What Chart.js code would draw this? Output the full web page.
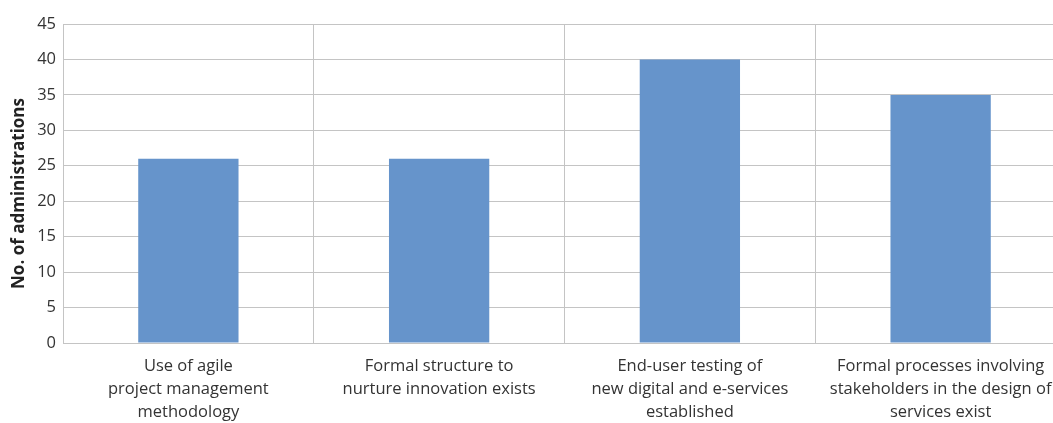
<!DOCTYPE html>
<html>
<head>
<meta charset="utf-8">
<script src="https://cdn.jsdelivr.net/npm/chart.js@4/dist/chart.umd.min.js"></script>
<style>
  html, body { margin: 0; padding: 0; background: #fff; overflow: hidden; }
  #wrap { position: relative; width: 1070px; height: 423px; }
</style>
</head>
<body>
<div id="wrap"><canvas id="c"></canvas></div>
<script>
// Categories (wrapped onto several lines) and counts per category
const categories = [
  ["Use of agile", "project management", "methodology"],
  ["Formal structure to", "nurture innovation exists"],
  ["End-user testing of", "new digital and e-services", "established"],
  ["Formal processes involving", "stakeholders in the design of", "services exist"]
];
const administrations = [26, 26, 40, 35];
const yTitle = "No. of administrations";

const FONT = "'Open Sans', 'Noto Sans', sans-serif";
const GRID = "#c4c4c4";

// Vertical axis title, drawn a little below the plot's middle
const yTitlePlugin = {
  id: "yTitle",
  afterDraw(chart) {
    const { ctx, chartArea } = chart;
    const cy = (chartArea.top + chartArea.bottom) / 2 + 10;
    ctx.save();
    ctx.translate(19, cy);
    ctx.rotate(-Math.PI / 2);
    ctx.font = "bold 17px " + FONT;
    ctx.fillStyle = "#222";
    ctx.textAlign = "center";
    ctx.textBaseline = "middle";
    ctx.fillText(yTitle, 0, 0);
    ctx.restore();
  }
};

new Chart(document.getElementById("c"), {
  type: "bar",
  data: {
    labels: categories,
    datasets: [{
      data: administrations,
      backgroundColor: "#6694cb",
      borderWidth: 0,
      barPercentage: 0.4,
      categoryPercentage: 1.0
    }]
  },
  plugins: [yTitlePlugin],
  options: {
    responsive: true,
    maintainAspectRatio: false,
    animation: false,
    layout: { padding: { top: 24, right: 4, left: 0, bottom: 0 } },
    plugins: { legend: { display: false }, tooltip: { enabled: false } },
    scales: {
      x: {
        grid: { color: GRID, lineWidth: 1, offset: true, drawTicks: false },
        border: { color: GRID, width: 1 },
        ticks: {
          color: "#333",
          font: { family: FONT, size: 16.5, lineHeight: 23 / 16.5 },
          padding: 12,
          maxRotation: 0,
          autoSkip: false
        },
        afterFit(scale) { scale.height = 80; }
      },
      y: {
        min: 0,
        max: 45,
        grid: { color: GRID, lineWidth: 1, drawTicks: false },
        border: { color: GRID, width: 1 },
        ticks: {
          stepSize: 5,
          color: "#333",
          font: { family: FONT, size: 16.5 },
          padding: 7
        },
        afterFit(scale) { scale.width = 63; }
      }
    }
  }
});
</script>
</body>
</html>
